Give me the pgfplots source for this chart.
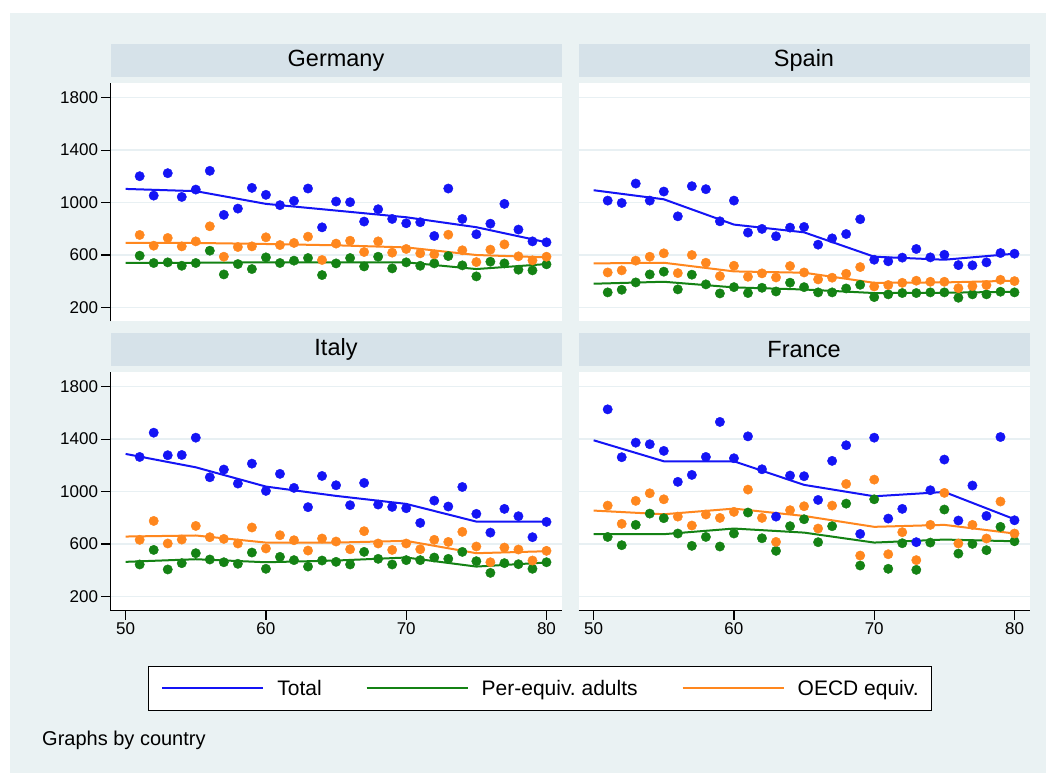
\documentclass[border=0pt]{standalone}
\usepackage{fontspec}
\setmainfont{Liberation Sans}
\usepackage{pgfplots}
\usepackage{pgfplotstable}
\pgfplotsset{compat=1.18}
\definecolor{bgc}{RGB}{234,242,243}
\definecolor{stripc}{RGB}{214,226,233}
\definecolor{gridc}{RGB}{232,240,243}
\definecolor{cblue}{RGB}{20,20,245}
\definecolor{cgreen}{RGB}{20,130,20}
\definecolor{corange}{RGB}{255,135,30}

\pgfplotstableread{
year tot per oecd
51 1201 595 753
52 1053 539 671
53 1224 544 730
54 1043 518 666
55 1099 539 704
56 1242 633 819
57 906 452 587
58 954 531 661
59 1112 493 666
60 1059 582 735
61 980 539 676
62 1013 557 692
63 1107 577 740
64 811 447 562
65 1008 536 687
66 1003 577 709
67 855 513 623
68 949 587 704
69 875 498 618
70 842 544 646
71 850 518 613
72 745 536 605
73 1107 592 755
74 875 521 636
75 758 437 546
76 839 549 641
77 990 536 681
78 794 488 590
79 704 483 559
80 697 529 587
}\germany
\pgfplotstableread{
year tot per oecd
50 1104 541 692
55 1087 541 692
60 990 544 684
65 939 544 674
70 888 544 658
75 812 493 600
80 697 531 582
}\germanyfit

\pgfplotstableread{
year tot per oecd
51 1015 315 467
52 997 335 483
53 1145 391 557
54 1015 452 587
55 1084 473 613
56 895 338 462
57 1125 450 600
58 1102 376 541
59 857 307 439
60 1015 355 518
61 771 310 434
62 799 350 460
63 743 322 429
64 809 389 516
65 814 355 467
66 679 315 414
67 727 315 427
68 760 345 457
69 873 373 508
70 564 279 360
71 552 300 371
72 580 310 388
73 646 310 404
74 582 315 396
75 602 315 396
76 523 274 347
77 521 300 363
78 544 300 371
79 615 320 411
80 610 315 401
}\spain
\pgfplotstableread{
year tot per oecd
50 1094 381 536
55 1025 396 541
60 832 353 475
65 773 337 465
70 587 310 388
75 564 312 391
80 610 320 404
}\spainfit

\pgfplotstableread{
year tot per oecd
51 1264 444 632
52 1449 555 776
53 1277 406 604
54 1279 454 634
55 1411 530 738
56 1109 482 652
57 1168 461 639
58 1061 449 604
59 1213 535 726
60 1005 411 566
61 1135 502 667
62 1028 477 629
63 881 428 550
64 1119 474 642
65 1048 464 619
66 896 444 560
67 1066 540 698
68 901 487 604
69 883 444 555
70 873 477 604
71 761 477 560
72 931 497 632
73 886 487 616
74 1035 540 693
75 830 469 581
76 687 380 461
77 868 454 573
78 812 446 558
79 652 411 474
80 769 461 548
}\italy
\pgfplotstableread{
year tot per oecd
50 1287 464 657
55 1185 484 665
60 1038 461 611
65 967 474 611
70 906 497 624
75 771 428 530
80 771 459 545
}\italyfit

\pgfplotstableread{
year tot per oecd
51 1627 654 893
52 1262 591 754
53 1373 746 929
54 1361 832 987
55 1310 797 941
56 1074 680 809
57 1127 586 741
58 1264 654 825
59 1531 581 799
60 1254 680 845
61 1421 840 1015
62 1170 644 799
63 809 548 616
64 1122 736 858
65 1117 789 888
66 936 614 718
67 1234 736 893
68 1353 908 1058
69 677 436 512
70 1411 941 1091
71 794 411 522
72 868 606 690
73 614 403 477
74 1010 611 746
75 1244 863 990
76 779 527 604
77 1046 601 746
78 814 553 642
79 1416 731 924
80 781 621 680
}\france
\pgfplotstableread{
year tot per oecd
50 1391 675 855
55 1231 675 827
60 1231 718 870
65 1051 687 814
70 964 611 731
75 997 634 746
80 789 621 680
}\francefit

\pgfplotsset{
 panel/.style={
  scale only axis, width=451pt, height=238pt,
  xmin=48.92, xmax=81.07, ymin=93, ymax=1908,
  axis lines*=left,
  axis background/.style={fill=white},
  xtick={50,60,70,80}, xticklabels={50,60,70,80},
  ytick={200,600,1000,1400,1800}, yticklabels={200,600,1000,1400,1800},
  ymajorgrids, grid style={gridc, line width=1.5pt},
  tick align=outside, major tick length=9pt,
  tick style={black, line width=1.2pt},
  axis line style={black, line width=1.3pt},
  ticklabel style={font=\fontsize{17}{17}\selectfont},
  title style={fill=stripc, minimum width=451pt, minimum height=33.5pt, inner sep=0pt, anchor=south, at={(0.5,1)}, yshift=0pt, font=\fontsize{23.5}{23.5}\selectfont},
 },
 noxaxis/.style={x axis line style={draw=none}, xtick style={draw=none}, xticklabels={}},
 noyaxis/.style={y axis line style={draw=none}, ytick style={draw=none}, yticklabels={}},
 pts/.style={only marks, mark=*, mark size=4.7pt, color=#1, mark options={fill=#1, draw=#1}, forget plot},
 fitl/.style={no marks, line width=2pt, color=#1},
}

\begin{document}
\begin{tikzpicture}
\fill[white] (0pt,0pt) rectangle (1052pt,774pt);
\fill[bgc] (10pt,1pt) rectangle (1046pt,761pt);

\begin{axis}[panel, noxaxis, title={Germany}, at={(110.5pt,452.5pt)}, anchor=south west]
\addplot[pts=cblue] table[x=year,y=tot]{\germany};
\addplot[pts=cgreen] table[x=year,y=per]{\germany};
\addplot[pts=corange] table[x=year,y=oecd]{\germany};
\addplot[fitl=cblue] table[x=year,y=tot]{\germanyfit};
\addplot[fitl=cgreen] table[x=year,y=per]{\germanyfit};
\addplot[fitl=corange] table[x=year,y=oecd]{\germanyfit};
\end{axis}

\begin{axis}[panel, noxaxis, noyaxis, title={Spain}, at={(578.5pt,452.5pt)}, anchor=south west]
\addplot[pts=cblue] table[x=year,y=tot]{\spain};
\addplot[pts=cgreen] table[x=year,y=per]{\spain};
\addplot[pts=corange] table[x=year,y=oecd]{\spain};
\addplot[fitl=cblue] table[x=year,y=tot]{\spainfit};
\addplot[fitl=cgreen] table[x=year,y=per]{\spainfit};
\addplot[fitl=corange] table[x=year,y=oecd]{\spainfit};
\end{axis}

\begin{axis}[panel, title={Italy}, at={(110.5pt,163.5pt)}, anchor=south west,
  legend columns=3,
  legend style={at={(0.9523,-0.3277)}, anchor=center, draw=black, line width=1pt, fill=white,
    font=\fontsize{21}{21}\selectfont, inner xsep=13pt, inner ysep=12pt, column sep=0pt,
    nodes={inner xsep=0pt},
    /tikz/every even column/.append style={column sep=44pt}},
  legend image code/.code={\draw[#1, line width=2pt] (0pt,0pt) -- (101pt,0pt); \path (114pt,0pt);}]
\addplot[pts=cblue] table[x=year,y=tot]{\italy};
\addplot[pts=cgreen] table[x=year,y=per]{\italy};
\addplot[pts=corange] table[x=year,y=oecd]{\italy};
\addplot[fitl=cblue] table[x=year,y=tot]{\italyfit};
\addlegendentry{Total}
\addplot[fitl=cgreen] table[x=year,y=per]{\italyfit};
\addlegendentry{Per-equiv.\ adults}
\addplot[fitl=corange] table[x=year,y=oecd]{\italyfit};
\addlegendentry{OECD equiv.}
\end{axis}

\begin{axis}[panel, noyaxis, title={France}, at={(578.5pt,163.5pt)}, anchor=south west]
\addplot[pts=cblue] table[x=year,y=tot]{\france};
\addplot[pts=cgreen] table[x=year,y=per]{\france};
\addplot[pts=corange] table[x=year,y=oecd]{\france};
\addplot[fitl=cblue] table[x=year,y=tot]{\francefit};
\addplot[fitl=cgreen] table[x=year,y=per]{\francefit};
\addplot[fitl=corange] table[x=year,y=oecd]{\francefit};
\end{axis}

\node[anchor=base west, inner sep=0pt, font=\fontsize{20}{20}\selectfont] at (42pt,29pt) {Graphs by country};
\end{tikzpicture}
\end{document}
